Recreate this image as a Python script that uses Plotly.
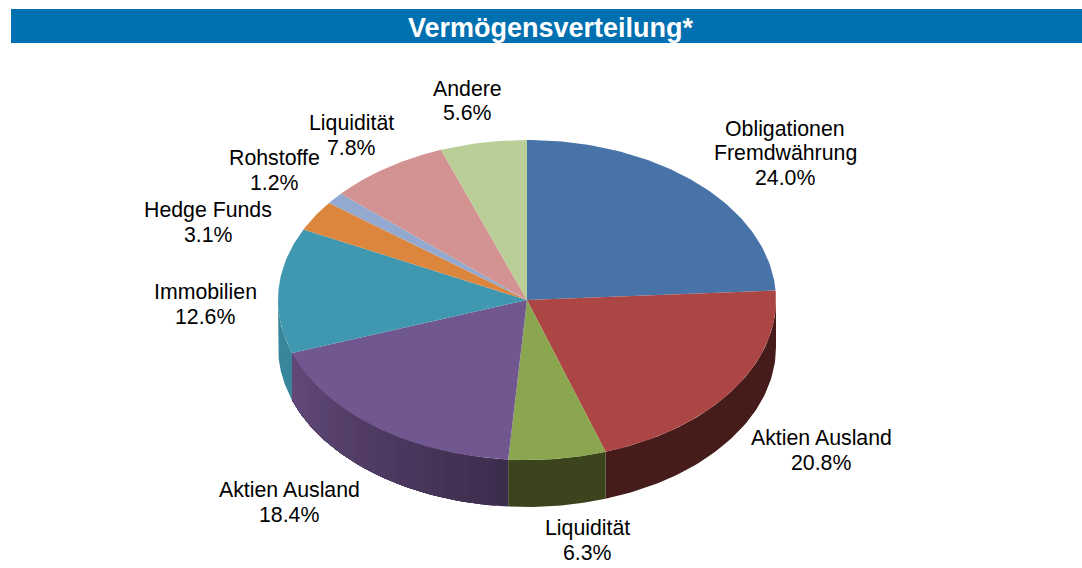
import math
import plotly.graph_objects as go

categories = ["Obligationen\nFremdwährung", "Aktien Ausland", "Liquidität", "Aktien Ausland",
              "Immobilien", "Hedge Funds", "Rohstoffe", "Liquidität", "Andere"]
values = [24.0, 20.8, 6.3, 18.4, 12.6, 3.1, 1.2, 7.8, 5.6]

top_colors = ["#4773a8", "#ab4644", "#8aa64e", "#715790", "#4098b0", "#dc853c", "#93a9cf", "#d29392", "#bacf97"]
# wall colour at the right and left end of each slice's visible wall
wall_right = ["#451c1a", "#451c1a", "#3c441e", "#3c2c4c", "#38869b", "#38869b", "#38869b", "#38869b", "#38869b"]
wall_left = ["#451c1a", "#451c1a", "#3c441e", "#62497a", "#38869b", "#38869b", "#38869b", "#38869b", "#38869b"]
label_pos = [(785, 153), (821, 450.5), (587, 540.5), (289, 502.5), (205, 304.5), (208, 222.5), (274, 170.5), (351, 135.5), (467, 101)]

CX, CY, RX, RY, DEPTH = 527, 300, 249, 160, 47
W, H = 1082, 568
LINE = 24.5
FONT = 21.3


def pt(t, dy=0):
    return CX + RX * math.sin(t), CY - RY * math.cos(t) + dy


def mix(a, b, f):
    ca = [int(a[i:i + 2], 16) for i in (1, 3, 5)]
    cb = [int(b[i:i + 2], 16) for i in (1, 3, 5)]
    return "rgb(%d,%d,%d)" % tuple(round(x + (y - x) * f) for x, y in zip(ca, cb))


total = sum(values)
edges = [0.0]
for v in values:
    edges.append(edges[-1] + v / total * 2 * math.pi)

fig = go.Figure()


def poly(pts, color):
    fig.add_trace(go.Scatter(x=[q[0] for q in pts], y=[q[1] for q in pts], mode="lines", fill="toself",
                             fillcolor=color, line=dict(width=0), hoverinfo="skip", showlegend=False))


# walls: each band reaches to the slice's end, so later bands paint over earlier ones without seams
for i, v in enumerate(values):
    a = max(edges[i], math.pi / 2)
    b = min(edges[i + 1], 3 * math.pi / 2)
    if b <= a:
        continue
    same = wall_left[i] == wall_right[i]
    n = 1 if same else max(1, int((b - a) / math.radians(3)))
    for k in range(n):
        t0 = a + (b - a) * k / n
        m = 60
        arc = [t0 + (b - t0) * j / m for j in range(m + 1)]
        pts = [pt(t) for t in arc] + [pt(t, DEPTH) for t in reversed(arc)]
        poly(pts + [pts[0]], mix(wall_right[i], wall_left[i], (k + 0.5) / n))

# top faces
for i, v in enumerate(values):
    n = max(2, int((edges[i + 1] - edges[i]) / math.radians(1)))
    p = [(CX, CY)] + [pt(edges[i] + (edges[i + 1] - edges[i]) * k / n) for k in range(n + 1)] + [(CX, CY)]
    poly(p, top_colors[i])

annotations = []
for c, v, (x, y) in zip(categories, values, label_pos):
    lines = c.split("\n") + [f"{v:.1f}%"]
    for j, line in enumerate(lines):
        annotations.append(dict(x=x, y=y + (j - (len(lines) - 1) / 2) * LINE, xref="x", yref="y", showarrow=False,
                                text=line, font=dict(family="Liberation Sans", size=FONT, color="#000000")))
annotations.append(dict(x=551, y=28, xref="x", yref="y", showarrow=False, text="<b>Vermögensverteilung*</b>",
                        font=dict(family="Liberation Sans", size=27, color="#ffffff")))

fig.update_layout(
    width=W, height=H, autosize=False, margin=dict(l=0, r=0, t=0, b=0),
    paper_bgcolor="#ffffff", plot_bgcolor="#ffffff", showlegend=False,
    xaxis=dict(range=[0, W], visible=False, fixedrange=True),
    yaxis=dict(range=[H, 0], visible=False, fixedrange=True),
    shapes=[dict(type="rect", xref="x", yref="y", x0=11, x1=W, y0=9, y1=43,
                 fillcolor="#0070b0", line_width=0, layer="below")],
    annotations=annotations,
)
fig.write_html("out.html", config={"displayModeBar": False, "responsive": False},
               post_script="document.body.style.margin='0';document.documentElement.style.overflow='hidden';")
